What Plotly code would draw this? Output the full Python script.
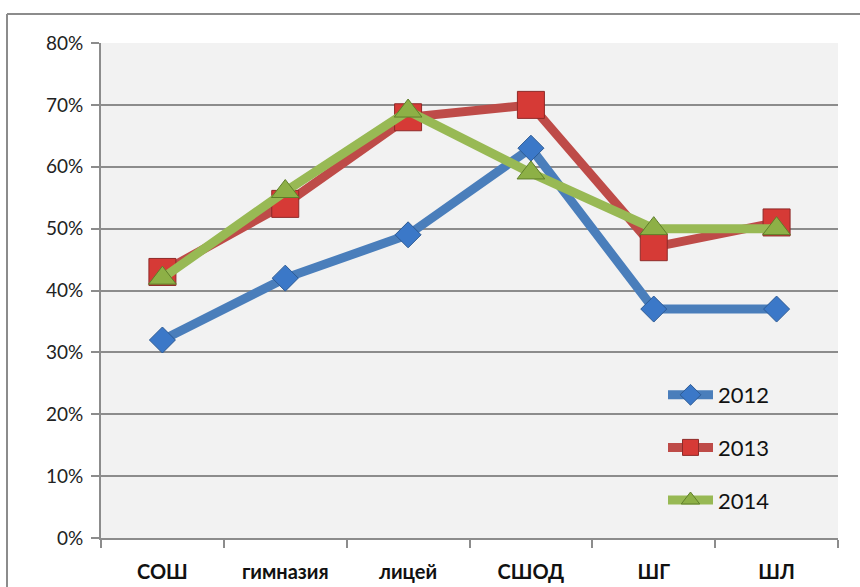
import plotly.graph_objects as go

categories = ["СОШ", "гимназия", "лицей", "СШОД", "ШГ", "ШЛ"]
v2012 = [0.32, 0.42, 0.49, 0.63, 0.37, 0.37]
v2013 = [0.43, 0.54, 0.68, 0.70, 0.47, 0.51]
v2014 = [0.42, 0.56, 0.69, 0.59, 0.50, 0.50]
y_ticks = [0, 0.1, 0.2, 0.3, 0.4, 0.5, 0.6, 0.7, 0.8]

W, H = 860, 587
L, R, T, B = 101, 838, 43, 538

series = [
    ("2012", v2012, "#4A7EBB", "diamond", 20, "#3B78C8", "#2C5A94"),
    ("2013", v2013, "#BE4B48", "square", 27, "#D63A36", "#8E2A28"),
    ("2014", v2014, "#98B954", "triangle-up", 24, "#8DB046", "#5F7F2A"),
]

fig = go.Figure()
for name, vals, lc, sym, sz, mc, ml in series:
    fig.add_trace(go.Scatter(
        x=categories, y=vals, name=name, mode="lines+markers",
        legendgroup=name,
        line=dict(color=lc, width=9),
        marker=dict(symbol=sym, size=sz, color=mc, line=dict(color=ml, width=1)),
    ))

fig.update_layout(
    width=W, height=H,
    margin=dict(l=L, r=W - R, t=T, b=H - B, pad=0, autoexpand=False),
    paper_bgcolor="white",
    plot_bgcolor="#F2F2F2",
    font=dict(family="Lato, Noto Sans, sans-serif", color="#222"),
    showlegend=True,
    legend=dict(
        x=(663 - L) / (R - L), y=(538 - 374) / (B - T),
        xanchor="left", yanchor="top",
        bgcolor="rgba(0,0,0,0)",
        font=dict(size=22, color="#111"),
        tracegroupgap=21,
        itemwidth=45,
    ),
    xaxis=dict(
        type="category", range=[-0.5, 5.5], automargin=False,
        showgrid=False, showline=True, linecolor="#8C8C8C", linewidth=2,
        ticks="outside", tickson="boundaries", ticklen=8, tickcolor="#8C8C8C", tickwidth=2,
        tickfont=dict(size=20, color="#111", family="Lato, Noto Sans, sans-serif", weight="bold"),
        ticklabelstandoff=15,
        zeroline=False,
    ),
    yaxis=dict(
        range=[0, 0.8], tickvals=y_ticks, tickformat=".0%", automargin=False,
        showgrid=True, gridcolor="#8C8C8C", gridwidth=2,
        showline=True, linecolor="#8C8C8C", linewidth=2,
        ticks="outside", ticklen=8, tickcolor="#8C8C8C", tickwidth=2,
        tickfont=dict(size=19, color="#222"),
        ticklabelstandoff=4,
        zeroline=False,
    ),
)

# outer chart border (top and left visible)
px = lambda X: (X - L) / (R - L)
py = lambda Y: (B - Y) / (B - T)
fig.add_shape(type="line", xref="paper", yref="paper", x0=px(7), x1=px(862), y0=py(14), y1=py(14),
              line=dict(color="#8C8C8C", width=2))
fig.add_shape(type="line", xref="paper", yref="paper", x0=px(7), x1=px(7), y0=py(14), y1=py(590),
              line=dict(color="#8C8C8C", width=2))

fig.write_html("out.html", config={"displayModeBar": False},
               post_script="document.body.style.margin='0';document.body.style.overflow='hidden';")
